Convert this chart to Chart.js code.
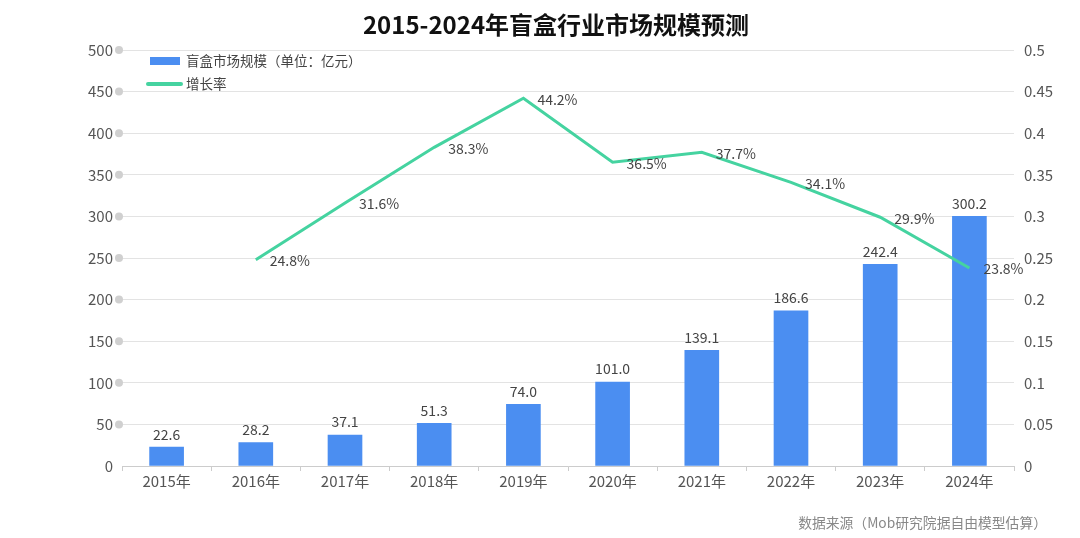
<!DOCTYPE html>
<html>
<head>
<meta charset="utf-8">
<script src="https://cdn.jsdelivr.net/npm/chart.js@4.4.1/dist/chart.umd.min.js"></script>
<style>
  html, body { margin: 0; padding: 0; background: #fff; }
  #wrap { position: relative; width: 1080px; height: 538px; }
</style>
</head>
<body>
<div id="wrap"><canvas id="blindBoxChart" width="1080" height="538"></canvas></div>
<script>
// data
const years = ['2015年', '2016年', '2017年', '2018年', '2019年', '2020年', '2021年', '2022年', '2023年', '2024年'];
const marketSize = [22.6, 28.2, 37.1, 51.3, 74.0, 101.0, 139.1, 186.6, 242.4, 300.2];
const growthRate = [null, 0.248, 0.316, 0.383, 0.442, 0.365, 0.377, 0.341, 0.299, 0.238];

const FONT = '"Noto Sans CJK SC", "Noto Sans", sans-serif';
const BAR_COLOR = '#4b8ef1';
const LINE_COLOR = '#45d3a0';

// title, legend, source note, tick dots and value labels
const extras = {
  id: 'extras',
  afterDatasetsDraw(chart) {
    const ctx = chart.ctx;
    const y = chart.scales.y;
    ctx.save();

    // grey dots on left axis
    ctx.fillStyle = '#d0d0d0';
    y.ticks.forEach(t => {
      if (t.value === 0) return;
      ctx.beginPath();
      ctx.arc(119, y.getPixelForValue(t.value), 4, 0, Math.PI * 2);
      ctx.fill();
    });

    // bar value labels
    ctx.font = '14px ' + FONT;
    ctx.fillStyle = '#444';
    ctx.textAlign = 'center';
    ctx.textBaseline = 'bottom';
    chart.getDatasetMeta(0).data.forEach((bar, i) => {
      ctx.fillText(marketSize[i].toFixed(1), bar.x, bar.y - 6);
    });

    // line value labels
    ctx.textAlign = 'left';
    ctx.textBaseline = 'middle';
    chart.getDatasetMeta(1).data.forEach((pt, i) => {
      if (growthRate[i] == null) return;
      ctx.fillText((growthRate[i] * 100).toFixed(1) + '%', pt.x + 14, pt.y + 1);
    });

    // title
    ctx.font = 'bold 24px ' + FONT;
    ctx.fillStyle = '#111';
    ctx.textAlign = 'center';
    ctx.fillText('2015-2024年盲盒行业市场规模预测', 556, 25);

    // legend
    ctx.font = '13.5px ' + FONT;
    ctx.fillStyle = BAR_COLOR;
    ctx.fillRect(150, 57, 30, 8);
    ctx.strokeStyle = LINE_COLOR;
    ctx.lineWidth = 4;
    ctx.lineCap = 'round';
    ctx.beginPath();
    ctx.moveTo(148, 84);
    ctx.lineTo(181, 84);
    ctx.stroke();
    ctx.fillStyle = '#444';
    ctx.textAlign = 'left';
    ctx.fillText(chart.data.datasets[0].label, 186, 61);
    ctx.fillText(chart.data.datasets[1].label, 186, 84);

    // source
    ctx.font = '13.8px ' + FONT;
    ctx.fillStyle = '#888';
    ctx.textAlign = 'right';
    ctx.fillText('数据来源（Mob研究院据自由模型估算）', 1047, 523);
    ctx.restore();
  }
};

const config = {
  data: {
    labels: years,
    datasets: [{
      type: 'bar',
      label: '盲盒市场规模（单位：亿元）',
      data: marketSize,
      yAxisID: 'y',
      backgroundColor: BAR_COLOR,
      barThickness: 34,
      order: 1
    }, {
      type: 'line',
      label: '增长率',
      data: growthRate,
      yAxisID: 'y1',
      borderColor: LINE_COLOR,
      borderWidth: 3,
      pointRadius: 0,
      tension: 0,
      order: 0
    }]
  },
  options: {
    responsive: false,
    animation: false,
    layout: { padding: { top: 50, bottom: 32, left: 0, right: 0 } },
    plugins: {
      legend: { display: false },
      title: { display: false },
      tooltip: { enabled: false }
    },
    scales: {
      x: {
        grid: { drawOnChartArea: false, drawTicks: true, tickLength: 5, offset: true, color: '#cccccc' },
        border: { color: '#cccccc' },
        ticks: { color: '#555', font: { size: 15, family: FONT }, padding: 1 },
        afterFit(scale) { scale.height = 40; }
      },
      y: {
        position: 'left',
        min: 0, max: 500,
        grid: { color: '#e3e3e3', drawTicks: false },
        border: { display: false },
        ticks: { stepSize: 50, color: '#555', font: { size: 15, family: FONT }, padding: 9 },
        afterFit(scale) { scale.width = 122; }
      },
      y1: {
        position: 'right',
        min: 0, max: 0.5,
        grid: { drawOnChartArea: false, drawTicks: false },
        border: { display: false },
        ticks: {
          stepSize: 0.05, color: '#555', font: { size: 15, family: FONT }, padding: 10,
          callback: v => String(+v.toFixed(2))
        },
        afterFit(scale) { scale.width = 66; }
      }
    }
  },
  plugins: [extras]
};

const chart = new Chart(document.getElementById('blindBoxChart'), config);
</script>
</body>
</html>
